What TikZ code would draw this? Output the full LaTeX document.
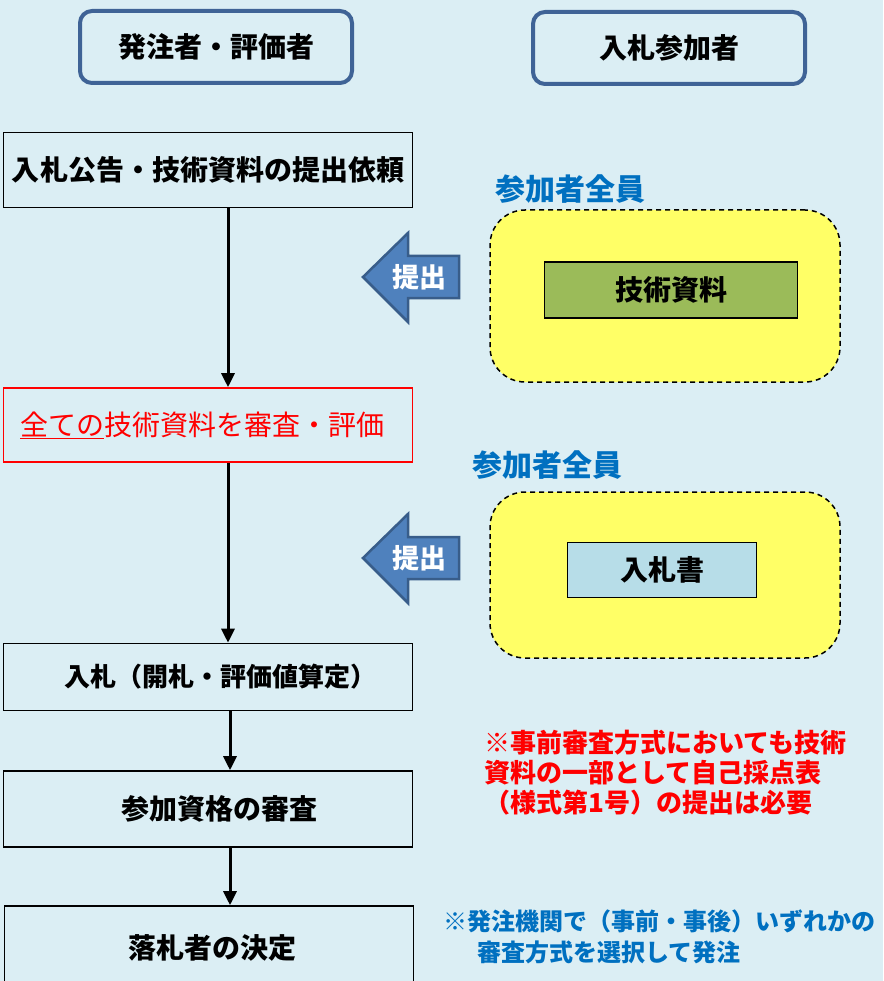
\documentclass[tikz,border=0pt]{standalone}
\usepackage{fontspec}
\setmainfont{Noto Sans CJK JP}
\usetikzlibrary{arrows.meta}

\definecolor{bakgrund}{HTML}{DBEEF4}
\definecolor{rubrikkant}{HTML}{3F6396}
\definecolor{gul}{HTML}{FFFF66}
\definecolor{gron}{HTML}{9BBB59}
\definecolor{ljusbla}{HTML}{B7DDE8}
\definecolor{pilfyll}{HTML}{4F81BD}
\definecolor{pilkant}{HTML}{385D8A}
\definecolor{notbla}{HTML}{0070C0}

\tikzset{
  rubrik/.style={draw=rubrikkant, line width=4pt, rounded corners=12pt,
    minimum width=272, minimum height=72, inner sep=0pt,
    font=\fontsize{28}{32}\selectfont\bfseries},
  steg/.style={draw, line width=1.6pt, fill=bakgrund, minimum width=409,
    inner sep=0pt, font=\fontsize{28}{32}\selectfont\bfseries},
  grupp/.style={draw, fill=gul, dashed, dash pattern=on 5pt off 4pt,
    line width=1.5pt, rounded corners=35pt, minimum width=350},
  dok/.style={draw, line width=1.6pt, inner sep=0pt,
    font=\fontsize{28}{32}\selectfont\bfseries},
  flode/.style={line width=3pt, -{Triangle[length=14pt,width=13pt]}},
  inlamning/.style={fill=pilfyll, draw=pilkant, line width=2.5pt},
}

\begin{document}
\begin{tikzpicture}[x=1pt, y=-1pt]
  \useasboundingbox (0, 0) rectangle (883, 981);
  \fill [bakgrund] (0, 0) rectangle (883, 981);  % bakgrund

  \node [rubrik] (bestallare) at (216, 47) {発注者・評価者};
  \node [rubrik] (deltagare) at (669, 48) {入札参加者};

  % vänster kolumn
  \node [steg, minimum height=75] (kungorelse) at (208, 170) {入札公告・技術資料の提出依頼};
  \node [steg, draw=red, text=red, minimum height=74, font=\fontsize{28}{32}\selectfont]
    (granskning) at (208, 425) {\hspace*{-12pt}\underline{全ての}技術資料を審査・評価};
  \node [steg, minimum height=67, font=\fontsize{26}{30}\selectfont\bfseries]
    (anbud) at (208, 677) {\hspace*{24pt}入札（開札・評価値算定）};
  \node [steg, minimum height=76] (kvalificering) at (208, 809) {\hspace*{22pt}参加資格の審査};
  \node [steg, minimum height=84] (vinnare) at (209, 948) {\hspace*{6pt}落札者の決定};

  \draw [flode] ([xshift=20pt]kungorelse.south) -- ([xshift=20pt]granskning.north);
  \draw [flode] ([xshift=20pt]granskning.south) -- ([xshift=20pt]anbud.north);
  \draw [flode] ([xshift=22pt]anbud.south) -- ([xshift=22pt]kvalificering.north);
  \draw [flode] ([xshift=22pt]kvalificering.south) -- ([xshift=21pt]vinnare.north);

  % höger kolumn
  \node [text=notbla, font=\fontsize{30}{34}\selectfont\bfseries] (alla1) at (570, 189) {参加者全員};
  \node [grupp, minimum height=172] (grupp1) at (665, 296) {};
  \node [dok, fill=gron, minimum width=253, minimum height=56] (tekniska) at (671, 290) {技術資料};

  \node [text=notbla, font=\fontsize{30}{34}\selectfont\bfseries] (alla2) at (547, 465) {参加者全員};
  \node [grupp, minimum height=166] (grupp2) at (665, 575) {};
  \node [dok, fill=ljusbla, minimum width=189, minimum height=55] (anbudsblankett) at (662, 570) {入札書};

  % inlämningspilar
  \draw [inlamning] (363, 277) -- (408, 233) -- (408, 256) -- (459, 256)
    -- (459, 298) -- (408, 298) -- (408, 322) -- cycle;
  \node [text=white, font=\fontsize{27}{30}\selectfont\bfseries] (in1) at (419, 277) {提出};
  \draw [inlamning] (363, 558) -- (408, 514) -- (408, 537) -- (459, 537)
    -- (459, 579) -- (408, 579) -- (408, 603) -- cycle;
  \node [text=white, font=\fontsize{27}{30}\selectfont\bfseries] (in2) at (419, 558) {提出};

  % anmärkningar
  \node [anchor=west, align=left, text=red, inner sep=0pt,
    font=\fontsize{26}{30}\selectfont\bfseries] (not1) at (484, 773)
    {※事前審査方式においても技術\\資料の一部として自己採点表\\（様式第1号）の提出は必要};
  \node [anchor=west, align=left, text=notbla, inner sep=0pt,
    font=\fontsize{24}{31}\selectfont\bfseries] (not2) at (443, 937)
    {※発注機関で（事前・事後）いずれかの\\\hspace*{34pt}審査方式を選択して発注};
\end{tikzpicture}
\end{document}
